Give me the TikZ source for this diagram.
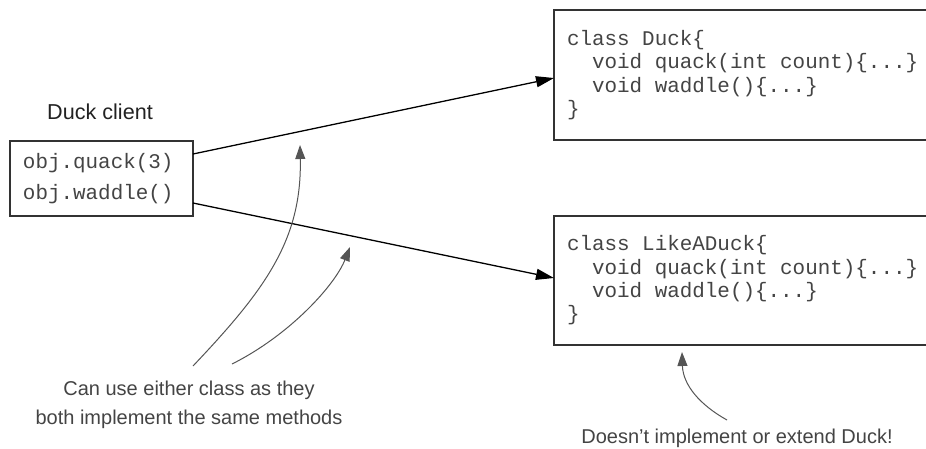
\documentclass[tikz,border=0pt]{standalone}
\usepackage{fontspec}
\setmainfont{Liberation Sans}
\newfontfamily\codefont{Liberation Mono}
\usetikzlibrary{arrows.meta}
\definecolor{boxline}{HTML}{333333}
\definecolor{codegray}{HTML}{444444}
\definecolor{labelgray}{HTML}{444444}
\definecolor{titlegray}{HTML}{222222}
\definecolor{notegray}{HTML}{555555}
\newcommand\codesetup{\codefont\fontsize{20.9}{23.3}\selectfont}
\newcommand\ind{\hspace*{2\fontcharwd\font`x}}
\newcommand\sk{\hspace{\fontcharwd\font`x}}
\tikzset{
  codebox/.style={draw=boxline, line width=1.2pt, anchor=north west, outer sep=0pt,
    inner xsep=13pt, inner ysep=0pt, align=left, text=codegray, font=\codesetup},
  label/.style={text=labelgray, font=\fontsize{20}{29.5}\selectfont, align=center, inner sep=0pt},
  title/.style={text=titlegray, font=\fontsize{21.6}{26}\selectfont, inner sep=0pt},
  callarrow/.style={line width=1.3pt, black, -{Triangle[length=18pt,width=11pt]}},
  notearrow/.style={line width=1pt, notegray, -{Triangle[length=14pt,width=10pt]}},
}
\begin{document}
\begin{tikzpicture}[x=1pt,y=-1pt]
\useasboundingbox (0,0) rectangle (926,448);
\node[codebox, minimum width=183pt, minimum height=75pt, text width=157pt] (client) at (10,141)
  {obj.quack(3)\\[7.5pt]obj.waddle()};
\node[title] (clientlbl) at (100,112) {Duck client};
\node[codebox, minimum width=380pt, minimum height=130pt, text width=354pt] (duck) at (554,10)
  {class\sk Duck\{\\\ind void\sk quack(int\sk count)\{...\}\\\ind void\sk waddle()\{...\}\\\}};
\node[codebox, minimum width=380pt, minimum height=129pt, text width=354pt] (like) at (554,216)
  {class\sk LikeADuck\{\\\ind void\sk quack(int\sk count)\{...\}\\\ind void\sk waddle()\{...\}\\\}};
\draw[callarrow] ([yshift=24.5pt]client.east) -- ([yshift=-3pt]duck.west);
\draw[callarrow] ([yshift=-24.5pt]client.east) -- ([yshift=2.5pt]like.west);
\node[label] (note1) at (189,405) {Can use either class as they\\both implement the same methods};
\node[label] (note2) at (737,438) {Doesn’t implement or extend Duck!};
\coordinate (n1a) at (193,366);
\coordinate (n1b) at (232,364);
\coordinate (t1a) at (300,145);
\coordinate (t1b) at (350,247);
\coordinate (n2a) at (727,420);
\coordinate (t2a) at (682,352);
\draw[notearrow] (n1a) .. controls (265,290) and (302,240) .. (t1a);
\draw[notearrow] (n1b) .. controls (290,335) and (335,285) .. (t1b);
\draw[notearrow] (n2a) .. controls (700,405) and (683,385) .. (t2a);
\end{tikzpicture}
\end{document}
